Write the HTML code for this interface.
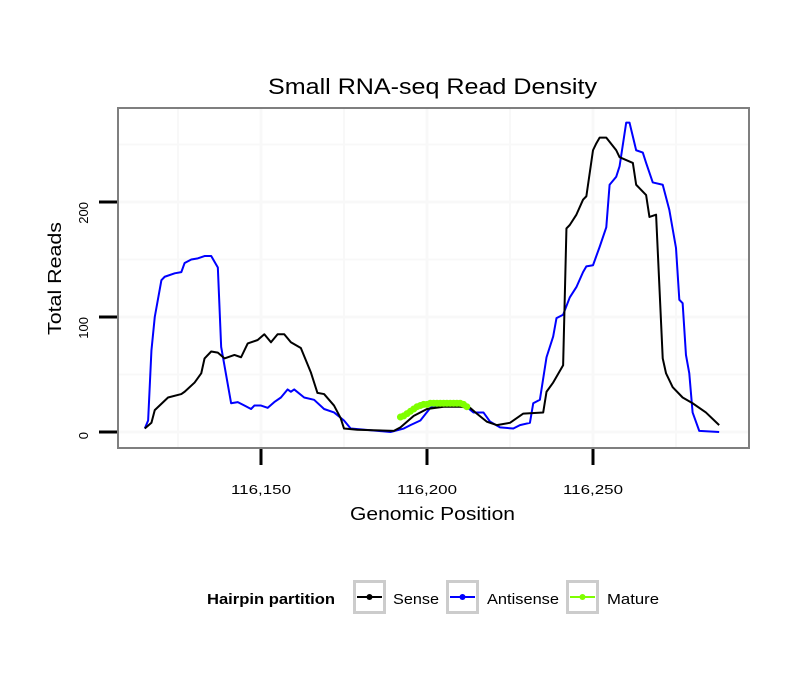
<!DOCTYPE html>
<html><head><meta charset="utf-8"><style>
body{margin:0;background:#fff;font-family:"Liberation Sans",sans-serif;}
</style></head><body>
<svg id="chart" width="810" height="690" xmlns="http://www.w3.org/2000/svg" font-family="Liberation Sans, sans-serif">
<rect width="810" height="690" fill="#fff"/>
<text x="268" y="94" font-size="22" textLength="329" lengthAdjust="spacingAndGlyphs">Small RNA-seq Read Density</text>
<g id="grid"></g>
<g id="series"></g>
<rect x="118" y="108" width="631" height="340" fill="none" stroke="#7f7f7f" stroke-width="2"/>
<g id="axes"></g>
<text x="350" y="520" font-size="18" textLength="165" lengthAdjust="spacingAndGlyphs">Genomic Position</text>
<text transform="translate(61,335) rotate(-90)" font-size="18" textLength="113" lengthAdjust="spacingAndGlyphs">Total Reads</text>
<g>
<text x="207" y="604" font-size="15" font-weight="bold" textLength="128" lengthAdjust="spacingAndGlyphs">Hairpin partition</text>
<g>
<rect x="354.5" y="581.5" width="30" height="31" fill="#fff" stroke="#ccc" stroke-width="3"/>
<line x1="357" y1="597" x2="382" y2="597" stroke="#000" stroke-width="2"/><circle cx="369.5" cy="597" r="3" fill="#000"/>
<text x="393" y="604" font-size="15" textLength="46" lengthAdjust="spacingAndGlyphs">Sense</text></g>
<g>
<rect x="447.5" y="581.5" width="30" height="31" fill="#fff" stroke="#ccc" stroke-width="3"/>
<line x1="450" y1="597" x2="475" y2="597" stroke="#0000ff" stroke-width="2"/><circle cx="462.5" cy="597" r="3" fill="#0000ff"/>
<text x="487" y="604" font-size="15" textLength="72" lengthAdjust="spacingAndGlyphs">Antisense</text></g>
<g>
<rect x="567.5" y="581.5" width="30" height="31" fill="#fff" stroke="#ccc" stroke-width="3"/>
<line x1="570" y1="597" x2="595" y2="597" stroke="#7fff00" stroke-width="2"/><circle cx="582.5" cy="597" r="3" fill="#7fff00"/>
<text x="607" y="604" font-size="15" textLength="52" lengthAdjust="spacingAndGlyphs">Mature</text></g>
</g>
</svg>
<script>
const xTicks=[116150,116200,116250];
const xTickLabels=["116,150","116,200","116,250"];
const yTicks=[0,100,200];
const yTickLabels=["0","100","200"];
const senseX=[116115,116117,116118,116122,116126,116127,116130,116132,116133,116135,116137,116139,116142,116144,116146,116149,116151,116153,116155,116157,116159,116162,116165,116167,116169,116172,116174,116175,116179,116190,116192,116196,116200,116205,116210,116213,116215,116218,116221,116225,116227,116229,116235,116236,116238,116241,116242,116243,116245,116247,116248,116250,116251,116252,116254,116257,116258,116262,116263,116264,116266,116267,116269,116271,116272,116274,116277,116280,116284,116288];
const senseY=[3,8,19,30,33,35,43,51,64,70,69,64,67,65,77,80,85,78,85,85,78,73,52,34,33,23,12,3,2,1,4,14,20,22,22,21,16,9,6,8,12,16,17,35,43,58,177,180,189,202,205,245,251,256,256,245,239,234,215,212,206,187,189,64,51,39,30,25,17,6];
const antiX=[116115,116116,116117,116118,116120,116121,116124,116126,116127,116129,116131,116133,116135,116137,116138,116141,116143,116145,116147,116148,116150,116152,116154,116156,116158,116159,116160,116163,116166,116169,116172,116175,116177,116189,116193,116195,116198,116201,116204,116211,116214,116217,116219,116222,116226,116228,116231,116232,116234,116236,116238,116239,116241,116243,116245,116247,116248,116250,116252,116254,116255,116257,116258,116260,116261,116263,116265,116266,116268,116271,116273,116275,116276,116277,116278,116279,116280,116282,116288];
const antiY=[3,10,71,100,132,135,138,139,147,150,151,153,153,143,74,25,26,23,20,23,23,21,26,30,37,35,37,30,28,20,17,10,3,0,3,6,10,21,24,24,17,17,9,4,3,6,8,25,28,65,83,99,102,117,126,139,144,145,161,178,215,222,231,269,269,245,243,234,217,215,193,160,115,112,67,51,17,1,0];
const matureX=[116192,116193,116194,116195,116196,116197,116198,116199,116200,116201,116202,116203,116204,116205,116206,116207,116208,116209,116210,116211,116212];
const matureY=[13,14,16,18,20,22,23,24,24,25,25,25,25,25,25,25,25,25,25,24,22];

const NS="http://www.w3.org/2000/svg";
const sx=v=>261+(v-116150)*3.32;
const sy=v=>432-v*1.15;
function mk(tag,attrs,parent){const e=document.createElementNS(NS,tag);for(const k in attrs)e.setAttribute(k,attrs[k]);parent.appendChild(e);return e;}
const grid=document.getElementById('grid');
for(let v=116125;v<=116275;v+=25){
  const l=mk('line',{x1:sx(v),x2:sx(v),y1:109,y2:447,stroke:'#f8f8f8','stroke-width':v%50===0?3:2},grid);
  
  
}
for(let v=0;v<=250;v+=50){
  const l=mk('line',{x1:119,x2:748,y1:sy(v),y2:sy(v),stroke:'#f8f8f8','stroke-width':v%100===0?3:2},grid);
  
  
}
const axes=document.getElementById('axes');
xTicks.forEach((v,i)=>{
  const t=mk('line',{x1:sx(v),x2:sx(v),y1:449,y2:465,stroke:'#000','stroke-width':3},axes);
  
  
  const tx=mk('text',{x:sx(v)-30,y:494,'font-size':13,textLength:60,lengthAdjust:'spacingAndGlyphs'},axes);
  tx.textContent=xTickLabels[i];
  
  
});
yTicks.forEach((v,i)=>{
  const t=mk('line',{x1:99,x2:117,y1:sy(v),y2:sy(v),stroke:'#000','stroke-width':3},axes);
  
  
  const tx=mk('text',{transform:`translate(88,${sy(v)}) rotate(-90)`,'font-size':13,'text-anchor':'end'},axes);
  tx.textContent=yTickLabels[i];
  
  
});
const series=document.getElementById('series');
function line(xs,ys,color,name){
  const p=mk('polyline',{points:xs.map((x,i)=>sx(x)+','+sy(ys[i])).join(' '),fill:'none',stroke:color,'stroke-width':2,'stroke-linejoin':'round'},series);
  
  
}
line(antiX,antiY,'#0000ff','antisense-line');
line(senseX,senseY,'#000','sense-line');
line(matureX,matureY,'#7fff00','mature-line');
matureX.forEach((x,i)=>{
  const c=mk('circle',{cx:sx(x),cy:sy(matureY[i]),r:3.5,fill:'#7fff00'},series);
  
  
});
</script>
</body></html>
